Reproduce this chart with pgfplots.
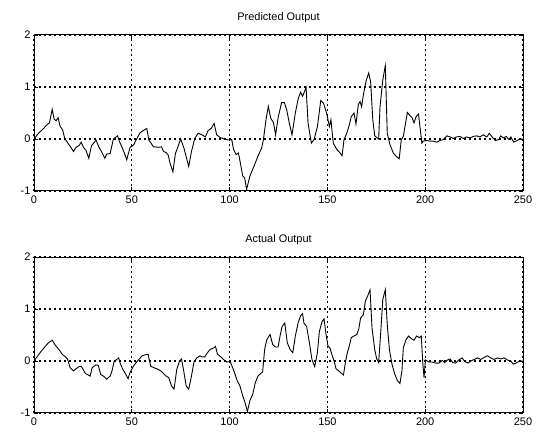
\documentclass[border=0pt]{standalone}
\usepackage{fontspec}
\setmainfont{Liberation Sans}
\usepackage{pgfplots}
\pgfplotsset{compat=1.18}

\pgfplotsset{
  mlab/.style={
    scale only axis, width=489bp, height=156bp,
    anchor=south west,
    xmin=0, xmax=250, ymin=-1, ymax=2,
    xtick={0,50,...,250}, ytick={-1,0,1,2},
    grid=major,
    major grid style={black, line width=1.3bp, dash pattern=on 2.4bp off 2.6bp},
    axis line style={black, line width=1bp},
    tick style={black, line width=0.7bp},
    tick align=inside, major tick length=4bp,
    ticklabel style={font=\fontsize{11}{13}\selectfont},
    /pgf/number format/assume math mode=true,
    title style={font=\fontsize{11}{13}\selectfont, at={(0.5,1)}, anchor=south, yshift=3bp},
    xticklabel style={yshift=-1bp},
  },
  sig/.style={black, line width=0.9bp, no markers},
}

\begin{document}
\begin{tikzpicture}
\path[use as bounding box] (0,0) rectangle (548bp,440bp);

\begin{axis}[mlab, at={(34bp,249bp)}, title={Predicted Output}]
\addplot[sig] coordinates {
(0,0) (2.3,0.11) (4.8,0.2) (6.5,0.27) (7.9,0.31) (9.3,0.57) (10.3,0.38) (11.3,0.35)
(12.3,0.41) (13.3,0.25) (14.7,0.17) (15.7,0.01) (16.8,-0.05) (18.1,-0.12) (20.2,-0.24)
(21.5,-0.16) (23.2,-0.12) (24.1,-0.06) (25.3,-0.16) (26.6,-0.22) (28.0,-0.37) (29.4,-0.13)
(31.7,-0.02) (33.1,-0.15) (34.5,-0.24) (36.2,-0.37) (37.2,-0.29) (38.9,-0.28) (40.6,0)
(42.7,0.06) (43.7,-0.05) (45.0,-0.16) (46.1,-0.26) (47.4,-0.40) (49.1,-0.16) (50.8,-0.12)
(52.2,-0.02) (54.2,0.12) (57.0,0.19) (57.7,0.2) (58.7,-0.02) (61.1,-0.15) (63.8,-0.16)
(65.2,-0.15) (66.2,-0.24) (67.5,-0.26) (68.6,-0.31) (69.6,-0.47) (71.0,-0.63) (72.3,-0.28)
(75.0,0) (76.7,-0.18) (79.1,-0.53) (80.5,-0.24) (82.2,0.01) (83.9,0.11) (85.9,0.08)
(87.6,0.04) (89.0,0.16) (90.7,0.21) (92.1,0.30) (93.4,0.08) (95.1,0.03) (97.2,0)
(99.6,-0.02) (101.1,-0.01) (102.0,-0.2) (103.3,-0.3) (104.5,-0.27) (105.0,-0.36)
(106.7,-0.71) (107.7,-0.75) (108.7,-0.97) (110.4,-0.71) (112.5,-0.52) (114.5,-0.33)
(116.4,-0.17) (117.3,-0.01) (118.6,0.37) (119.8,0.63) (121.0,0.4) (122.4,0.32) (123.5,0.08)
(124.9,0.43) (126.6,0.7) (128.0,0.7) (129.2,0.56) (130.5,0.31) (131.9,0.08) (133.6,0.5)
(135.1,0.78) (136.3,0.9) (137.3,0.82) (139.1,0.99) (140.1,0.31) (141.8,-0.08) (143.2,-0.01)
(144.9,0.24) (146.6,0.74) (148.0,0.69) (149.3,0.53) (150.0,0.43) (151.0,0.24) (151.8,0.37)
(153.0,-0.08) (154.8,-0.2) (156.1,-0.25) (157.5,-0.32) (158.5,-0.01) (159.9,0.11)
(161.2,0.27) (162.2,0.43) (163.6,0.5) (164.6,0.29) (165.8,0.66) (166.7,0.72) (167.5,0.62)
(168.4,0.85) (169.8,1.12) (171.1,1.27) (172.1,1.1) (173.2,0.37) (174.2,0.06) (175.5,0.02)
(176.2,0) (176.9,0.62) (178.3,1.13) (179.6,1.41) (180.6,0.11) (182.0,-0.11) (183.7,-0.27)
(185.4,-0.34) (186.7,-0.38) (187.8,-0.01) (188.8,0.05) (190.9,0.51) (192.2,0.45)
(193.2,0.42) (194.3,0.31) (195.3,0.43) (196.6,0.48) (197.3,0.24) (198.3,-0.08) (199.0,-0.04)
(200.7,-0.03) (202.4,-0.04) (204.1,-0.04) (205.8,-0.06) (207.5,-0.03) (209.3,-0.01)
(211.0,0.06) (212.7,0.04) (214.4,0.01) (216.1,0.04) (217.8,0.05) (219.5,0.01) (221.2,0.04)
(222.9,0.02) (224.6,0.05) (226.3,0.06) (228.0,0.04) (229.7,0.08) (231.5,0.04) (232.8,0.11)
(234.2,0.04) (235.9,-0.03) (237.6,-0.01) (238.6,0.06) (240.0,0.02) (241.4,0.05)
(242.8,-0.01) (243.8,0.04) (245.2,-0.06) (246.9,-0.03) (248.6,0) (250,0)
};
\end{axis}

\begin{axis}[mlab, at={(34bp,27bp)}, title={Actual Output}]
\addplot[sig] coordinates {
(0,0) (3.1,0.16) (5.7,0.28) (7.4,0.35) (9.3,0.40) (11.0,0.30) (13.0,0.21) (14.4,0.13)
(16.1,0.08) (17.1,0.04) (18.5,-0.13) (20.2,-0.19) (21.5,-0.15) (22.9,-0.11) (24.2,-0.1)
(25.3,-0.18) (26.3,-0.24) (27.3,-0.26) (28.7,-0.29) (29.7,-0.13) (31.4,-0.08) (32.8,-0.08)
(34.1,-0.26) (35.5,-0.29) (37.2,-0.35) (38.9,-0.29) (39.9,-0.19) (41.0,0) (42.0,0.02)
(43.3,0.06) (44.0,-0.04) (45.4,-0.16) (46.7,-0.24) (48.1,-0.34) (49.1,-0.22) (50.8,-0.1)
(52.2,-0.03) (53.6,0.03) (55.3,0.1) (57.0,0.12) (58.3,0.13) (59.7,-0.1) (61.4,-0.13)
(63.4,-0.16) (64.8,-0.19) (66.2,-0.24) (67.5,-0.29) (68.9,-0.32) (70.3,-0.48) (71.6,-0.54)
(73.0,-0.16) (74.4,0) (75.4,0.04) (76.4,-0.16) (77.8,-0.48) (79.1,-0.54) (80.5,-0.29)
(81.8,-0.02) (83.2,0.06) (84.9,0.1) (85.9,0.08) (87.3,0.08) (88.7,0.16) (90.0,0.22)
(91.7,0.25) (92.8,0.28) (93.8,0.13) (95.5,0.08) (96.8,0.03) (98.6,-0.02) (100.3,-0.01)
(102.2,-0.19) (103.9,-0.38) (105.3,-0.48) (106.7,-0.67) (107.9,-0.8) (109.1,-0.97)
(110.4,-0.76) (111.8,-0.64) (113.2,-0.41) (114.5,-0.29) (115.9,-0.24) (116.9,-0.21)
(117.9,0.22) (119.0,0.41) (120.7,0.51) (122.0,0.32) (123.4,0.27) (124.8,0.27) (125.8,0.48)
(126.8,0.66) (128.2,0.73) (129.5,0.35) (130.9,0.22) (132.3,0.16) (133.6,0.48) (135.0,0.73)
(136.3,0.87) (137.3,0.91) (138.0,0.73) (139.4,0.66) (140.8,0.35) (142.1,0.03) (143.5,-0.11)
(144.9,0.16) (145.9,0.57) (147.3,0.76) (148.3,0.81) (149.3,0.51) (150.3,0.29) (151.4,0.24)
(152.4,0.11) (153.4,0) (154.4,-0.15) (155.8,-0.19) (157.2,-0.24) (158.2,-0.27) (159.2,-0.03)
(160.2,0.16) (161.2,0.29) (162.2,0.45) (163.6,0.48) (165.0,0.51) (166.0,0.61) (167.0,0.83)
(168.4,0.89) (169.4,1.15) (170.8,1.27) (171.8,1.37) (172.8,0.64) (174.2,0.22) (175.2,0.04)
(176.2,-0.03) (177.3,0.57) (178.3,1.18) (179.6,1.37) (180.6,0.7) (181.7,0.22) (183.0,-0.06)
(184.4,-0.25) (185.8,-0.38) (187.1,-0.43) (188.1,-0.19) (188.8,0.25) (190.2,0.41)
(191.5,0.48) (192.9,0.43) (194.3,0.4) (195.6,0.48) (197.0,0.45) (198.0,0.48) (198.7,0)
(199.4,-0.32) (200.1,0.02) (201.8,-0.02) (203.5,-0.02) (205.3,-0.04) (207.0,-0.04)
(208.7,0.01) (210.0,-0.03) (211.4,0.02) (212.7,0.04) (214.1,-0.03) (215.5,-0.04)
(217.2,0.02) (218.9,0.06) (220.2,-0.01) (221.9,-0.04) (223.3,0) (225.0,0.03) (226.7,0.06)
(228.4,0.03) (230.1,0.07) (231.8,0.1) (233.5,0.06) (235.2,0.03) (236.9,0.06) (238.6,0.04)
(240.3,0.06) (242.0,0.02) (243.7,0) (245.1,-0.06) (246.4,-0.04) (247.8,-0.01) (249.6,0) (250,0)
};
\end{axis}
\end{tikzpicture}
\end{document}
